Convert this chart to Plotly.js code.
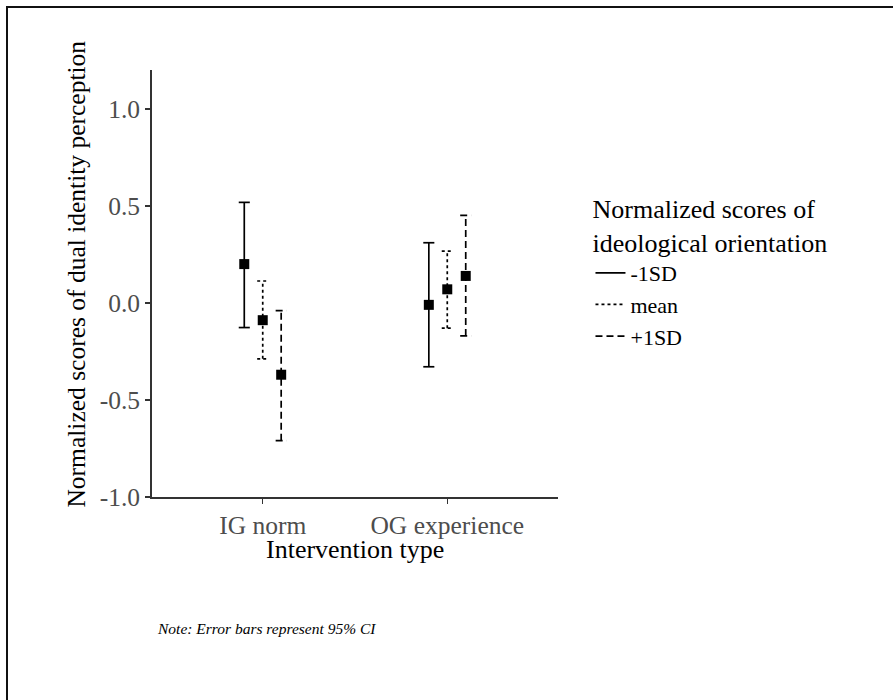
<!DOCTYPE html>
<html>
<head>
<meta charset="utf-8">
<script src="https://cdn.plot.ly/plotly-3.0.1.min.js"></script>
<style>
  html, body { margin: 0; padding: 0; background: #fff; overflow: hidden; }
  #wrap { position: relative; width: 893px; height: 700px; overflow: hidden; }
  #chart { position: absolute; left: 0; top: 0; width: 893px; height: 700px; }
  #frame { position: absolute; left: 6px; top: 6px; width: 880px; height: 692px;
           border-left: 2px solid #111; border-top: 2px solid #111; border-bottom: 1px solid #d8d8d8;
           pointer-events: none; }
  #frame2 { position: absolute; left: 880px; top: 6px; width: 13px; height: 0;
           border-top: 2px solid #111; pointer-events: none; }
</style>
</head>
<body>
<div id="wrap">
  <div id="chart"></div>
  <div id="frame"></div>
  <div id="frame2"></div>
</div>
<script>
// ---- data ----
const categories = ["IG norm", "OG experience"];
const seriesNames = ["-1SD", "mean", "+1SD"];
const estMinus1SD = [0.20, -0.01];
const lowMinus1SD = [-0.127, -0.329];
const highMinus1SD = [0.518, 0.31];
const estMean = [-0.089, 0.07];
const lowMean = [-0.288, -0.13];
const highMean = [0.113, 0.267];
const estPlus1SD = [-0.37, 0.139];
const lowPlus1SD = [-0.71, -0.17];
const highPlus1SD = [-0.04, 0.451];
const yTicks = [-1.0, -0.5, 0.0, 0.5, 1.0];

// ---- styling ----
const FONT = "Liberation Serif, Times New Roman, serif";
const dodge = [-0.1, 0, 0.1];
const capHalf = 0.03;
const dashes = ["solid", "3px,3px", "7px,4px"];
const series = [
  {est: estMinus1SD, lo: lowMinus1SD, hi: highMinus1SD},
  {est: estMean, lo: lowMean, hi: highMean},
  {est: estPlus1SD, lo: lowPlus1SD, hi: highPlus1SD}
];

const traces = [];
series.forEach((s, k) => {
  const ex = [], ey = [];
  categories.forEach((c, i) => {
    const x = (i + 1) + dodge[k];
    ex.push(x, x, null, x - capHalf, x + capHalf, null, x - capHalf, x + capHalf, null);
    ey.push(s.lo[i], s.hi[i], null, s.lo[i], s.lo[i], null, s.hi[i], s.hi[i], null);
  });
  traces.push({
    type: "scatter", mode: "lines", x: ex, y: ey, name: seriesNames[k],
    legendgroup: seriesNames[k], showlegend: true, hoverinfo: "skip",
    line: {color: "#000", width: 1.7, dash: dashes[k]}
  });
});
series.forEach((s, k) => {
  traces.push({
    type: "scatter", mode: "markers",
    x: categories.map((c, i) => (i + 1) + dodge[k]), y: s.est,
    name: seriesNames[k], legendgroup: seriesNames[k], showlegend: false,
    marker: {symbol: "square", size: 10, color: "#000"}
  });
});

const layout = {
  width: 893, height: 700,
  margin: {l: 152, r: 335, t: 70, b: 203, pad: 0},
  paper_bgcolor: "#fff", plot_bgcolor: "#fff",
  font: {family: FONT, color: "#000"},
  showlegend: true,
  xaxis: {
    range: [0.4, 2.6], tickvals: [1, 2], ticktext: categories,
    showgrid: false, zeroline: false, showline: true, linecolor: "#333", linewidth: 1.8,
    ticks: "outside", ticklen: 5, tickwidth: 1.5, tickcolor: "#333",
    tickfont: {family: FONT, size: 25.5, color: "#4d4d4d"}, fixedrange: true
  },
  yaxis: {
    range: [-1.0, 1.2], tickvals: yTicks, ticktext: yTicks.map(v => v.toFixed(1)),
    showgrid: false, zeroline: false, showline: true, linecolor: "#333", linewidth: 1.8,
    ticks: "outside", ticklen: 5, tickwidth: 1.5, tickcolor: "#333",
    tickfont: {family: FONT, size: 25.5, color: "#4d4d4d"}, fixedrange: true
  },
  legend: {
    x: 1.08, y: 0.732, xanchor: "left", yanchor: "top",
    bgcolor: "rgba(0,0,0,0)", borderwidth: 0,
    font: {family: FONT, size: 22, color: "#000"},
    title: {text: "Normalized scores of<br>ideological orientation", font: {family: FONT, size: 26, color: "#000"}},
    tracegroupgap: 0, traceorder: "normal"
  },
  annotations: [
    {text: "Normalized scores of dual identity perception", xref: "paper", yref: "paper",
     x: -0.185, y: 0.523, textangle: -90, showarrow: false, xanchor: "center", yanchor: "middle",
     font: {family: FONT, size: 25.5, color: "#000"}},
    {text: "Intervention type", xref: "paper", yref: "paper",
     x: 0.5, y: -0.122, showarrow: false, xanchor: "center", yanchor: "middle",
     font: {family: FONT, size: 26, color: "#000"}},
    {text: "<i>Note: Error bars represent 95% CI</i>", xref: "paper", yref: "paper",
     x: 0.0074, y: -0.307, showarrow: false, xanchor: "left", yanchor: "middle",
     font: {family: FONT, size: 15.5, color: "#000"}}
  ]
};

Plotly.newPlot("chart", traces, layout, {displayModeBar: false, staticPlot: true});
</script>
</body>
</html>
